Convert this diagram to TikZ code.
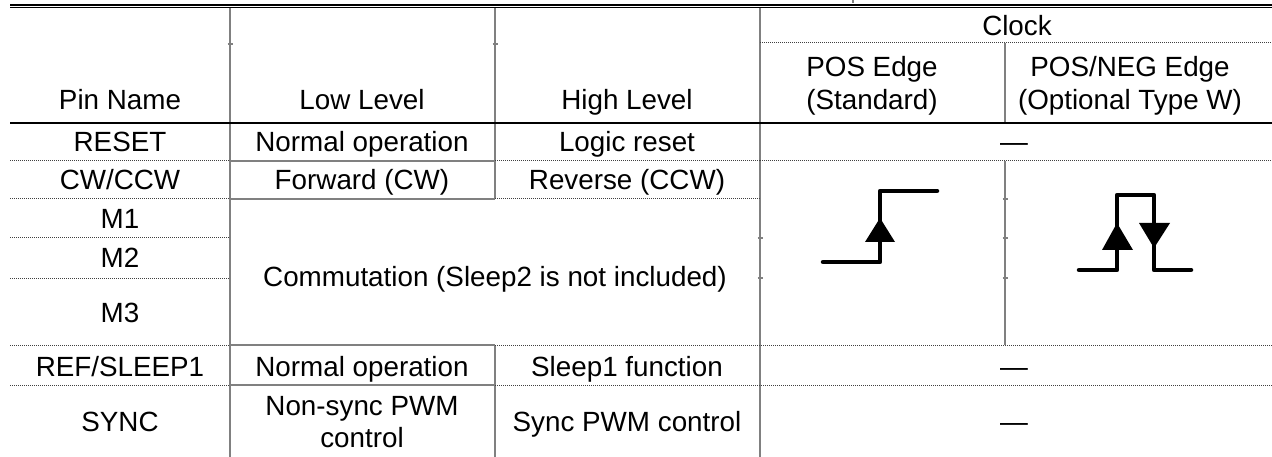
\documentclass[tikz,border=0pt]{standalone}
\usepackage{fontspec}
\setmainfont{Liberation Sans}
\begin{document}
\begin{tikzpicture}[x=1pt,y=-1pt,
  every node/.style={inner sep=0pt, anchor=base, font=\fontsize{27.8}{33}\selectfont},
  grid/.style={draw=black!50, line width=1.5pt},
  dots/.style={draw=black!75, line width=1pt, dash pattern=on 1pt off 1pt},
  heavy/.style={draw=black, line width=2.6pt},
  wave/.style={draw=black, line width=4.5pt, line cap=round, line join=round},
  tip/.style={fill=black},
  tick/.style={draw=black!50, line width=1.2pt}]
\useasboundingbox (0,0) rectangle (1272,457);
% top double rule
\draw[black, line width=1.8pt] (10,4.9) -- (1272,4.9);
\draw[black, line width=1.6pt] (10,7.6) -- (1272,7.6);
\draw[tick] (853,0) -- (853,3.5);
% vertical rules
\draw[grid] (230,8.5) -- (230,457);
\draw[grid] (495,8.5) -- (495,199);
\draw[grid] (495,345) -- (495,457);
\draw[grid] (760,8.5) -- (760,457);
\draw[grid] (1005,43) -- (1005,123);
\draw[grid] (1005,161) -- (1005,345);
% horizontal rules
\draw[dots] (760,43) -- (1272,43);
\draw[heavy] (10,123) -- (1272,123);
\foreach \yy in {161,199}{
  \draw[dots] (10,\yy) -- (230,\yy);
  \draw[grid] (230,\yy) -- (495,\yy);
  \draw[dots] (495,\yy) -- (760,\yy);
}
\draw[dots] (760,161) -- (1272,161);
\foreach \yy in {238,278}{
  \draw[dots] (10,\yy) -- (230,\yy);
  \draw[tick] (757.5,\yy) -- (762.5,\yy);
  \draw[tick] (1002.5,\yy) -- (1007.5,\yy);
}
\draw[tick] (1002.5,199) -- (1007.5,199);
\draw[tick] (227.5,44) -- (232.5,44);
\draw[tick] (492.5,44) -- (497.5,44);
\foreach \yy in {345,385}{
  \draw[dots] (10,\yy) -- (230,\yy);
  \draw[grid] (230,\yy) -- (495,\yy);
  \draw[dots] (495,\yy) -- (1272,\yy);
}
% clock waveforms
\draw[wave] (823,262) -- (880,262) -- (880,191) -- (937,191);
\fill[tip] (880,218) -- (895,242) -- (865,242) -- cycle;
\draw[wave] (1079,270) -- (1117,270) -- (1117,195) -- (1154,195) -- (1154,270) -- (1191,270);
\fill[tip] (1117,223) -- (1133,250) -- (1102,250) -- cycle;
\fill[tip] (1154,248) -- (1170,223) -- (1139,223) -- cycle;
% header
\node (clock) at (1017,36) {Clock};
\node (posA) at (872,77) {POS Edge};
\node (posB) at (872,110) {(Standard)};
\node (negA) at (1130,77) {POS/NEG Edge};
\node (negB) at (1130,110) {(Optional Type W)};
\node (hpin) at (120,110) {Pin Name};
\node (hlow) at (362,110) {Low Level};
\node (hhigh) at (627,110) {High Level};
% rows
\node (reset) at (120,152) {RESET};
\node (resetL) at (362,152) {Normal operation};
\node (resetH) at (627,152) {Logic reset};
\node (resetC) at (1014,152) {—};
\node (cw) at (120,190) {CW/CCW};
\node (cwL) at (362,190) {Forward (CW)};
\node (cwH) at (627,190) {Reverse (CCW)};
\node (m1) at (120,229) {M1};
\node (m2) at (120,268) {M2};
\node (m3) at (120,322) {M3};
\node (comm) at (495,287) {Commutation (Sleep2 is not included)};
\node (ref) at (120,376) {REF/SLEEP1};
\node (refL) at (362,376) {Normal operation};
\node (refH) at (627,376) {Sleep1 function};
\node (refC) at (1014,376) {—};
\node (sync) at (120,431) {SYNC};
\node (syncLa) at (362,415) {Non-sync PWM};
\node (syncLb) at (362,447) {control};
\node (syncH) at (627,431) {Sync PWM control};
\node (syncC) at (1014,431) {—};
\end{tikzpicture}
\end{document}
